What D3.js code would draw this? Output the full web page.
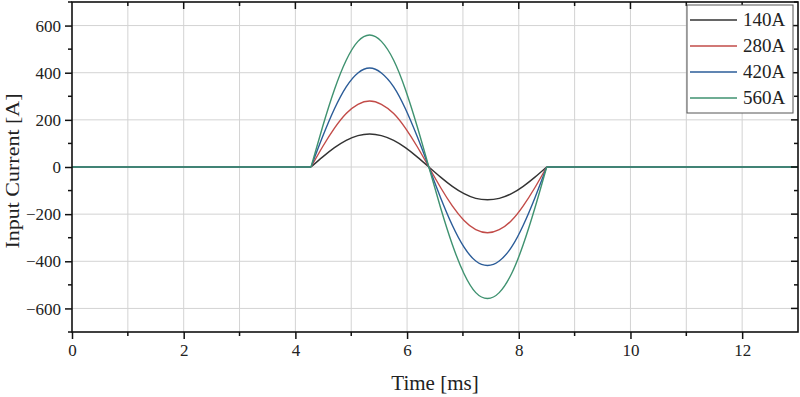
<!DOCTYPE html>
<html>
<head>
<meta charset="utf-8">
<script src="https://cdn.jsdelivr.net/npm/d3@7"></script>
<style>
  body { margin: 0; background: #fff; }
  svg text { font-family: "Liberation Serif", "Times New Roman", serif; fill: #222; }
</style>
</head>
<body>
<svg id="chart" width="800" height="397"></svg>
<script>
////////////////////////////////////////////////////////////////////////////////////
// Data
var times = [0, 4.28, 4.49, 4.70, 4.91, 5.12, 5.33, 5.54, 5.76, 5.97, 6.18, 6.39,
             6.60, 6.81, 7.02, 7.23, 7.44, 7.65, 7.87, 8.08, 8.29, 8.50, 13];
var i140 = [0, 0, 43, 82, 113, 133, 140, 133, 113, 82, 43, 0,
            -43, -82, -113, -133, -139, -133, -113, -82, -43, 0, 0];
var i280 = [0, 0, 87, 165, 227, 266, 280, 266, 227, 165, 87, 0,
            -87, -165, -227, -266, -279, -266, -227, -165, -87, 0, 0];
var i420 = [0, 0, 130, 247, 340, 399, 420, 399, 340, 247, 130, 0,
            -130, -247, -340, -399, -418, -399, -340, -247, -130, 0, 0];
var i560 = [0, 0, 173, 329, 453, 533, 560, 533, 453, 329, 173, 0,
            -173, -329, -453, -533, -558, -533, -453, -329, -173, 0, 0];
var seriesNames = ["140A", "280A", "420A", "560A"];
var seriesColors = ["#333333", "#c24b48", "#2b5c98", "#3f9270"];
var xTicks = [0, 2, 4, 6, 8, 10, 12];
var yTicks = [-600, -400, -200, 0, 200, 400, 600];

var pulseStart = 1, pulseEnd = 21; // index range of the pulse in times

////////////////////////////////////////////////////////////////////////////////////
// Setup
var svg = d3.select("#chart");
var margin = {top: 2, right: 2, bottom: 65, left: 72};
var width = 800 - margin.left - margin.right,
    height = 397 - margin.top - margin.bottom;

var xScale = d3.scaleLinear().domain([0, 13]).range([0, width]);
var yScale = d3.scaleLinear().domain([-700, 700]).range([height, 0]);

var g = svg.append("g").attr("transform", "translate(" + margin.left + "," + margin.top + ")");

// grid lines
g.append("g").selectAll("line")
  .data(d3.range(1, 13))
  .enter().append("line")
  .attr("x1", function(d) { return xScale(d); })
  .attr("x2", function(d) { return xScale(d); })
  .attr("y1", 0).attr("y2", height)
  .style("stroke", "#d3d3d3").style("stroke-width", 1);

g.append("g").selectAll("line")
  .data(yTicks)
  .enter().append("line")
  .attr("x1", 0).attr("x2", width)
  .attr("y1", function(d) { return yScale(d); })
  .attr("y2", function(d) { return yScale(d); })
  .style("stroke", "#d3d3d3").style("stroke-width", 1);

////////////////////////////////////////////////////////////////////////////////////
// Lines
var allSeries = [i140, i280, i420, i560];
var lineFlat = d3.line()
  .x(function(d) { return xScale(d[0]); })
  .y(function(d) { return yScale(d[1]); });
var lineCurve = d3.line()
  .x(function(d) { return xScale(d[0]); })
  .y(function(d) { return yScale(d[1]); })
  .curve(d3.curveNatural);

allSeries.forEach(function(vals, k) {
  var pts = times.map(function(t, i) { return [t, vals[i]]; });
  var pieces = [
    {pts: pts.slice(0, pulseStart + 1), gen: lineFlat},
    {pts: pts.slice(pulseStart, pulseEnd + 1), gen: lineCurve},
    {pts: pts.slice(pulseEnd), gen: lineFlat}
  ];
  pieces.forEach(function(p) {
    g.append("path")
      .attr("d", p.gen(p.pts))
      .style("fill", "none")
      .style("stroke", seriesColors[k])
      .style("stroke-width", 1.4);
  });
});

////////////////////////////////////////////////////////////////////////////////////
// Axes (ticks from d3 axis, labels drawn as own text)
var xAxis = d3.axisBottom(xScale).tickValues(xTicks).tickSize(7).tickFormat("");
var yAxis = d3.axisLeft(yScale).tickValues(yTicks).tickSize(7).tickFormat("");

var gx = g.append("g").attr("transform", "translate(0," + height + ")").call(xAxis);
var gy = g.append("g").call(yAxis);

var fmt = d3.format("d");
gx.selectAll(".tick").append("text")
  .attr("class", "lbl")
  .attr("y", 24)
  .attr("text-anchor", "middle")
  .text(function(d) { return fmt(d); });
gy.selectAll(".tick").append("text")
  .attr("class", "lbl")
  .attr("x", -11)
  .attr("dy", "0.33em")
  .attr("text-anchor", "end")
  .text(function(d) { return fmt(d); });

// minor ticks bottom / left
gx.append("g").selectAll("line")
  .data(d3.range(1, 13, 2))
  .enter().append("line")
  .attr("x1", function(d) { return xScale(d); })
  .attr("x2", function(d) { return xScale(d); })
  .attr("y1", 0).attr("y2", 4);
gy.append("g").selectAll("line")
  .data(d3.range(-700, 701, 200))
  .enter().append("line")
  .attr("y1", function(d) { return yScale(d); })
  .attr("y2", function(d) { return yScale(d); })
  .attr("x1", 0).attr("x2", -4);

// top / right mirror ticks (inward)
var gTop = g.append("g");
gTop.selectAll("line")
  .data(d3.range(1, 13))
  .enter().append("line")
  .attr("x1", function(d) { return xScale(d); })
  .attr("x2", function(d) { return xScale(d); })
  .attr("y1", 0).attr("y2", function(d) { return d % 2 == 0 ? 7 : 4; });
var gRight = g.append("g");
gRight.selectAll("line")
  .data(d3.range(-600, 701, 100))
  .enter().append("line")
  .attr("y1", function(d) { return yScale(d); })
  .attr("y2", function(d) { return yScale(d); })
  .attr("x1", width).attr("x2", function(d) { return d % 200 == 0 ? width - 7 : width - 4; });

[gx, gy, gTop, gRight].forEach(function(a) {
  a.attr("font-family", null).attr("font-size", null);
  a.selectAll("line").style("stroke", "#111").style("stroke-width", 1.5);
  a.selectAll(".domain").remove();
});
svg.selectAll(".lbl")
  .attr("font-size", 17)
  .attr("fill", "#222");

// frame
g.append("rect")
  .attr("x", 0).attr("y", 0).attr("width", width).attr("height", height)
  .style("fill", "none").style("stroke", "#111").style("stroke-width", 1.6);

// axis titles
svg.append("text")
  .attr("x", margin.left + width / 2).attr("y", 390)
  .attr("text-anchor", "middle")
  .style("font-size", "21px")
  .text("Time [ms]");
svg.append("text")
  .attr("transform", "translate(19,171) rotate(-90)")
  .attr("text-anchor", "middle")
  .style("font-size", "19px")
  .attr("textLength", 155)
  .attr("lengthAdjust", "spacingAndGlyphs")
  .text("Input Current [A]");

////////////////////////////////////////////////////////////////////////////////////
// Legend
var legend = svg.append("g").attr("transform", "translate(687,5)");
legend.append("rect")
  .attr("width", 106).attr("height", 108)
  .style("fill", "#fff").style("stroke", "#555").style("stroke-width", 1);
seriesNames.forEach(function(name, k) {
  var yy = 15 + k * 26;
  legend.append("line")
    .attr("x1", 3).attr("x2", 50).attr("y1", yy).attr("y2", yy)
    .style("stroke", seriesColors[k]).style("stroke-width", 1.4);
  legend.append("text")
    .attr("x", 56).attr("y", yy + 6)
    .style("font-size", "19px")
    .text(name);
});
</script>
</body>
</html>
